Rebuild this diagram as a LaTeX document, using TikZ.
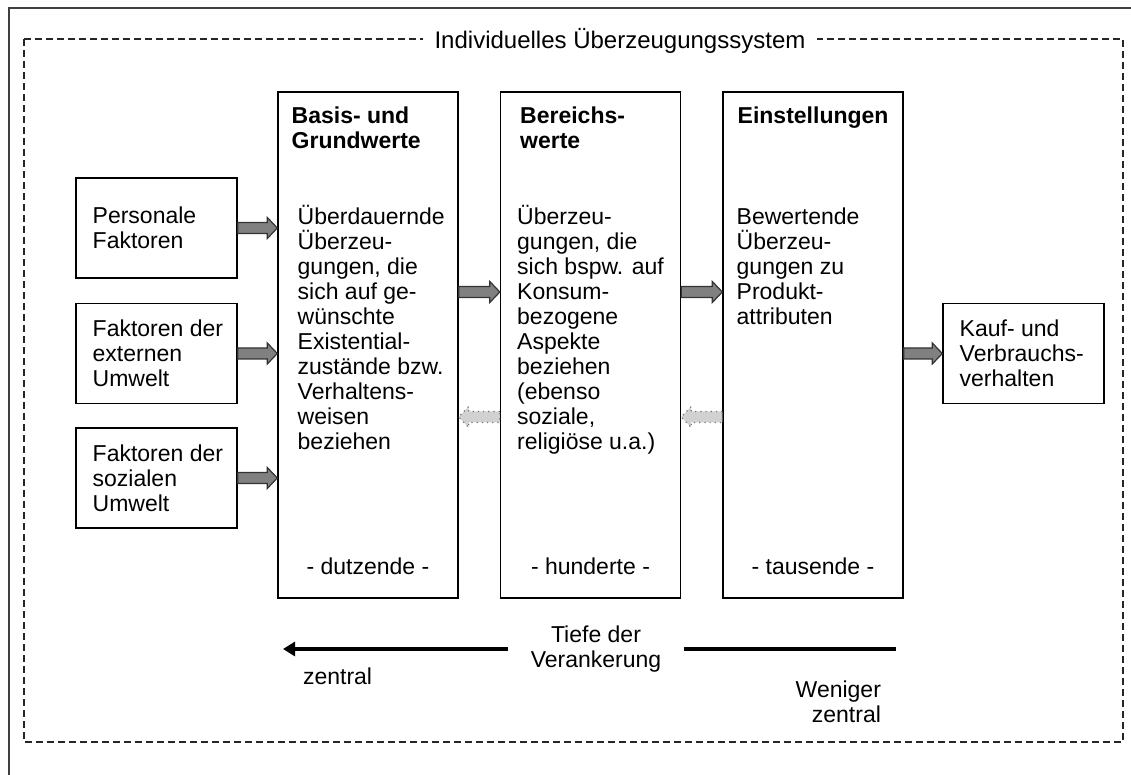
\documentclass[tikz,border=0pt]{standalone}
\usepackage{fontspec}
\setmainfont{Liberation Sans}
\usetikzlibrary{calc,arrows.meta}
% invisible rule that fixes the height of a first line
\newcommand\lnstrut{\rule{0pt}{11pt}}
% block arrow from #2 to #3 (head at #3), drawn at the height of #2
\newcommand\blockarrow[3][]{%
  \draw[#1] let \p1=(#2), \p2=(#3), \p3=($(#3)!5pt!(#2)$) in
    (\x1,\y1+2.75pt) -- (\x3,\y1+2.75pt) -- (\x3,\y1+5.25pt) -- (\x2,\y1)
    -- (\x3,\y1-5.25pt) -- (\x3,\y1-2.75pt) -- (\x1,\y1-2.75pt) -- cycle;}
\begin{document}
\begin{tikzpicture}[x=0.5pt,y=-0.5pt,
  every node/.style={font=\fontsize{11.5pt}{12.5pt}\selectfont},
  box/.style={draw=black, line width=0.7pt},
  sidebox/.style={box, minimum width=80.5pt, minimum height=50pt, inner sep=0pt},
  sidetext/.style={anchor=west, inner sep=0pt, align=left},
  valuebox/.style={box, minimum width=90pt, minimum height=253pt, inner sep=0pt},
  heading/.style={anchor=north west, inner sep=0pt, align=left,
    font=\fontsize{11.5pt}{12.5pt}\selectfont\bfseries},
  bodytext/.style={anchor=north west, inner sep=0pt, align=left},
  fwd/.style={fill=black!50, draw=black!80, line width=0.6pt},
  back/.style={fill=black!18, draw=black!55, line width=0.6pt, dotted},
  depth/.style={line width=2pt, draw=black}]
\useasboundingbox (0,0) rectangle (1131,775);

% outer frame
\draw[line width=1.1pt, draw=black!75] (9,775) -- (9,8) -- (1131,8);

% dashed frame of the belief system
\draw[line width=0.7pt, dash pattern=on 3.5pt off 2pt, draw=black!85]
  (24,39) rectangle (1123,742);
\node[fill=white, inner xsep=6pt, inner ysep=2pt,
  font=\fontsize{12pt}{13pt}\selectfont] (title) at (620,41)
  {Individuelles Überzeugungssystem};

% influencing factors
\node[sidebox] (pers) at (156.5,228) {};
\node[sidebox] (ext)  at (156.5,353.5) {};
\node[sidebox] (soz)  at (156.5,478) {};
\node[sidetext] (persT) at ([xshift=8.5pt]pers.west) {Personale\\Faktoren};
\node[sidetext] (extT)  at ([xshift=8.5pt]ext.west) {Faktoren der\\externen\\Umwelt};
\node[sidetext] (sozT)  at ([xshift=8.5pt]soz.west) {Faktoren der\\sozialen\\Umwelt};

% value levels
\node[valuebox] (basis)   at (368,345) {};
\node[valuebox] (bereich) at (590.5,345) {};
\node[valuebox] (einst)   at (813,345) {};

\node[heading] (basisH) at ([shift={(14,10)}]basis.north west)
  {\lnstrut Basis- und\\Grundwerte};
\node[bodytext] (basisT) at ([shift={(20,111)}]basis.north west)
  {\lnstrut Überdauernde\\Überzeu-\\gungen, die\\sich auf ge-\\wünschte\\Existential-\\zustände bzw.\\Verhaltens-\\weisen\\beziehen};
\node (basisN) at ([yshift=16pt]basis.south) {- dutzende -};

\node[heading] (bereichH) at ([shift={(20,10)}]bereich.north west)
  {\lnstrut Bereichs-\\werte};
\node[bodytext] (bereichT) at ([shift={(17,111)}]bereich.north west)
  {\lnstrut Überzeu-\\gungen, die\\sich bspw. auf\\Konsum-\\bezogene\\Aspekte\\beziehen\\(ebenso\\soziale,\\religiöse u.a.)};
\node (bereichN) at ([yshift=16pt]bereich.south) {- hunderte -};

\node[heading] (einstH) at ([shift={(15,10)}]einst.north west)
  {\lnstrut Einstellungen};
\node[bodytext] (einstT) at ([shift={(14,111)}]einst.north west)
  {\lnstrut Bewertende\\Überzeu-\\gungen zu\\Produkt-\\attributen};
\node (einstN) at ([yshift=16pt]einst.south) {- tausende -};

% behaviour
\node[sidebox] (kauf) at (1023.5,353.5) {};
\node[sidetext] (kaufT) at ([xshift=8.5pt]kauf.west) {Kauf- und\\Verbrauchs-\\verhalten};

% arrow rows
\coordinate (rowF) at (0,292);
\coordinate (rowB) at (0,417);

\blockarrow[fwd]{pers.east}{basis.west |- pers.east}
\blockarrow[fwd]{ext.east}{basis.west |- ext.east}
\blockarrow[fwd]{soz.east}{basis.west |- soz.east}
\blockarrow[fwd]{basis.east |- rowF}{bereich.west |- rowF}
\blockarrow[fwd]{bereich.east |- rowF}{einst.west |- rowF}
\blockarrow[fwd]{einst.east |- kauf.west}{kauf.west}
\blockarrow[back]{bereich.west |- rowB}{basis.east |- rowB}
\blockarrow[back]{einst.west |- rowB}{bereich.east |- rowB}

% depth of anchoring
\node[inner xsep=11pt, align=center] (tiefe) at (596,649) {Tiefe der\\Verankerung};
\coordinate (farL) at (283,649);
\coordinate (farR) at (896,649);
\draw[depth, -{Triangle[length=6pt,width=7pt]}] (tiefe.west) -- (farL);
\draw[depth] (tiefe.east) -- (farR);
\node[anchor=west] (zentral) at (296,676) {zentral};
\node[anchor=east, align=right] (weniger) at (888,702) {Weniger\\zentral};
\end{tikzpicture}
\end{document}
